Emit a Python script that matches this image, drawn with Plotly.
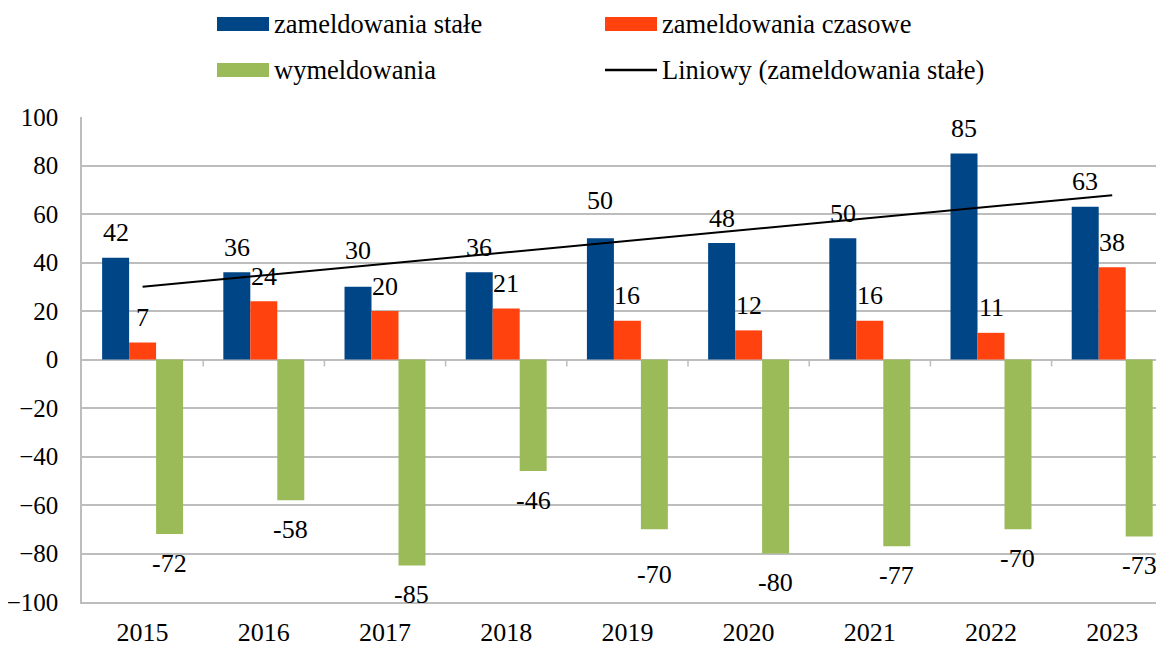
import plotly.graph_objects as go

# ---- data ----
years = ["2015", "2016", "2017", "2018", "2019", "2020", "2021", "2022", "2023"]
zam_stale = [42, 36, 30, 36, 50, 48, 50, 85, 63]
zam_czasowe = [7, 24, 20, 21, 16, 12, 16, 11, 38]
wymeldowania = [-72, -58, -85, -46, -70, -80, -77, -70, -73]
series_names = ["zameldowania stałe", "zameldowania czasowe", "wymeldowania"]
trend_name = "Liniowy (zameldowania stałe)"

# ---- style ----
FONT = "Liberation Serif, Times New Roman, serif"
FS = 26
YTICK_FS = 25
LEG_FS = 26.5
COLORS = ["#004586", "#FF420E", "#9BBB59"]
GRID = "#BDBDBD"
BODY = 8  # default page body margin
W, H = 1164 - BODY, 646 - BODY
ML, MT = 82 - BODY, 117 - BODY
MB = H - (602 - BODY)
MR = 0
CAT_PX = 121.2
BARGAP = 0.332
plot_w = W - ML - MR
plot_h = H - MT - MB
x_max = -0.5 + plot_w / CAT_PX

xs = list(range(len(years)))

# linear trend (least squares) of zameldowania stałe
n = len(zam_stale)
mx = sum(xs) / n
my = sum(zam_stale) / n
slope = sum((x - mx) * (y - my) for x, y in zip(xs, zam_stale)) / sum((x - mx) ** 2 for x in xs)
icpt = my - slope * mx
trend = [icpt + slope * x for x in xs]

fig = go.Figure()
all_series = [zam_stale, zam_czasowe, wymeldowania]
for name, vals, col in zip(series_names, all_series, COLORS):
    fig.add_trace(go.Bar(x=xs, y=vals, name=name, marker_color=col,
                         marker_line_width=0, showlegend=False))
fig.add_trace(go.Scatter(x=xs, y=trend, mode="lines", name=trend_name,
                         line=dict(color="black", width=2), showlegend=False))

# data labels
bw = (1 - BARGAP) / 3
offsets = [-bw, 0, bw]
nudge = {(0, 2): 11, (0, 4): 13, (2, 4): -16}
annotations = []
for k, vals in enumerate(all_series):
    for i, v in enumerate(vals):
        base = 25 if v >= 0 else -29
        annotations.append(dict(
            x=xs[i] + offsets[k], y=v, xref="x", yref="y",
            text=str(v), showarrow=False, yanchor="middle", xanchor="center",
            yshift=base + nudge.get((k, i), 0),
            font=dict(family=FONT, size=FS, color="black")))

# custom legend (positions given in screen pixels)
def px_to_paper(px, py):
    return (px - BODY - ML) / plot_w, (H - MB - (py - BODY)) / plot_h

shapes = []
legend_items = [
    (series_names[0], "bar", COLORS[0], 217, 24),
    (series_names[1], "bar", COLORS[1], 605, 24),
    (series_names[2], "bar", COLORS[2], 217, 70),
    (trend_name, "line", "black", 605, 70),
]
for name, kind, col, lx, ly in legend_items:
    x0, y0 = px_to_paper(lx, ly - 7)
    x1, y1 = px_to_paper(lx + 52, ly + 7)
    if kind == "bar":
        shapes.append(dict(type="rect", xref="paper", yref="paper",
                           x0=x0, x1=x1, y0=y1, y1=y0, fillcolor=col,
                           line=dict(width=0)))
    else:
        _, ym = px_to_paper(lx, ly)
        shapes.append(dict(type="line", xref="paper", yref="paper",
                           x0=x0, x1=x1, y0=ym, y1=ym,
                           line=dict(color=col, width=2.5)))
    tx, ty = px_to_paper(lx + 55, ly)
    annotations.append(dict(x=tx, y=ty, xref="paper", yref="paper",
                            text=name, showarrow=False, xanchor="left",
                            yanchor="middle",
                            font=dict(family=FONT, size=LEG_FS, color="black")))

# category tick marks at zero line
for i in range(len(years)):
    shapes.append(dict(type="line", xref="x", yref="y", ysizemode="pixel",
                       yanchor=0, x0=i + 0.5, x1=i + 0.5, y0=0, y1=-7,
                       line=dict(color=GRID, width=1.5)))

fig.update_layout(
    width=W, height=H,
    margin=dict(l=ML, r=MR, t=MT, b=MB, pad=0),
    paper_bgcolor="white", plot_bgcolor="white",
    barmode="group", bargap=BARGAP, bargroupgap=0,
    font=dict(family=FONT, size=FS, color="black"),
    annotations=annotations, shapes=shapes,
    showlegend=False,
)
fig.update_xaxes(range=[-0.5, x_max], tickmode="array", tickvals=xs,
                 ticktext=years, showgrid=False, zeroline=False,
                 showline=True, linecolor=GRID, linewidth=1.5,
                 ticks="outside", ticklen=0, ticklabelstandoff=6,
                 automargin=False,
                 tickfont=dict(family=FONT, size=FS, color="black"))
fig.update_yaxes(range=[-100, 100], dtick=20, tick0=0, showgrid=True,
                 gridcolor=GRID, gridwidth=1.5, zeroline=True,
                 zerolinecolor=GRID, zerolinewidth=1.5,
                 showline=True, linecolor=GRID, linewidth=1.5,
                 ticks="outside", ticklen=0, ticklabelstandoff=17,
                 automargin=False,
                 tickfont=dict(family=FONT, size=YTICK_FS, color="black"))

fig.write_html("out.html")
